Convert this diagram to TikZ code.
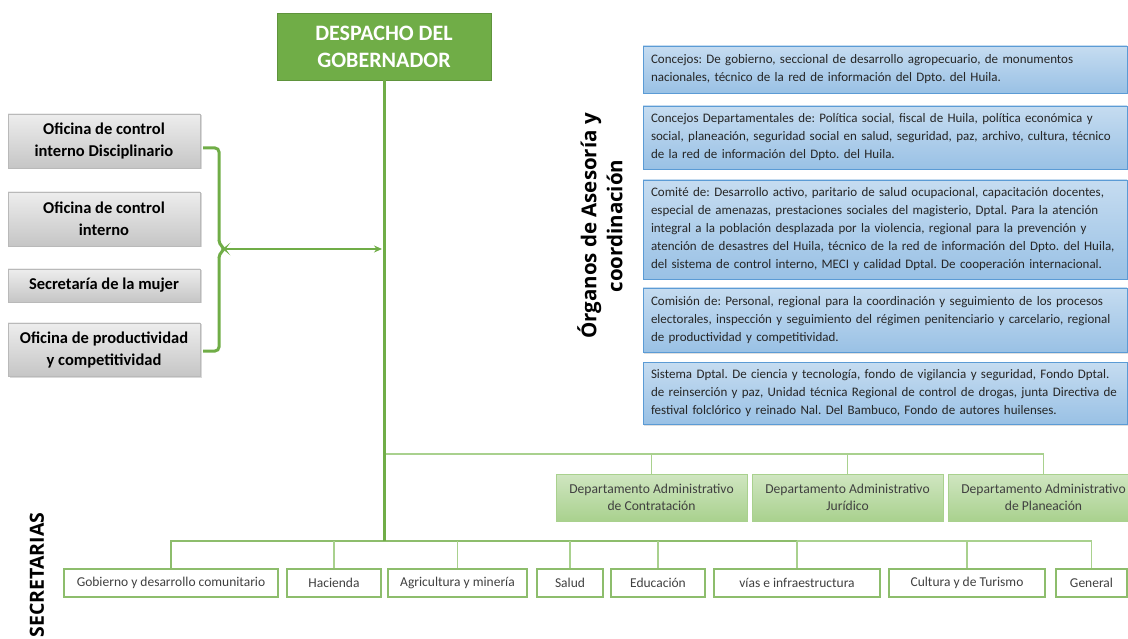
\documentclass[tikz,border=0pt]{standalone}
\usepackage{fontspec}
\setmainfont{Carlito}
\newfontfamily\titfont{Open Sans}
\usepackage{tikz}
\usetikzlibrary{arrows.meta}
\usetikzlibrary{shadows}
\frenchspacing
\definecolor{verde}{HTML}{70AD47}
\definecolor{verdec}{HTML}{A9D18E}
\definecolor{azul}{HTML}{5B9BD5}
\tikzset{jefe/.style={draw=verde!85!black, fill=verde, text=white, font=\fontsize{22}{27}\selectfont\bfseries, align=center, minimum width=214pt, minimum height=67pt, inner sep=0pt}}
\tikzset{ofi/.style={draw=gray!55, top color=gray!14, bottom color=gray!45, font=\fontsize{16.5}{22}\selectfont\bfseries, align=center, minimum width=192pt, inner sep=0pt, drop shadow={shadow xshift=1.5pt, shadow yshift=-1.5pt, opacity=0.3}}}
\tikzset{org/.style={draw=azul, top color=azul!35, bottom color=azul!62, font=\fontsize{13}{18}\selectfont, text=black!85, align=left, text width=468pt, inner xsep=8pt, inner ysep=0pt, drop shadow={shadow xshift=1pt, shadow yshift=-1.5pt, opacity=0.25}}}
\tikzset{dep/.style={draw=verdec, top color=verdec!55, bottom color=verdec, font=\fontsize{13.6}{17}\selectfont, text=black!75, align=center, minimum width=191pt, minimum height=47pt, inner sep=0pt}}
\tikzset{sec/.style={draw=verde!80, line width=1.2pt, fill=white, font=\fontsize{13.5}{15}\selectfont, text=black!75, minimum height=28pt, inner sep=0pt}}
\tikzset{conn/.style={draw=verdec, line width=1.3pt}}
\tikzset{tronco/.style={draw=verde, line width=3pt}}
\tikzset{flecha/.style={draw=verde, line width=1.5pt, -{Stealth[length=8pt, width=7pt]}}}
\tikzset{rot/.style={font=\titfont\fontsize{20.5}{26}\selectfont\bfseries, rotate=90, align=center}}

\begin{document}
\begin{tikzpicture}[x=1pt, y=-1pt]
  \useasboundingbox (0,0) rectangle (1128,639);

  % despacho y tronco
  \node[jefe] (D) at (384,46.5) {DESPACHO DEL\\GOBERNADOR};
  \coordinate (DB) at (384,454);
  \coordinate (SB) at (384,541);

  % oficinas
  \node[ofi, minimum height=54pt] (O1) at (104,141) {Oficina de control\\interno Disciplinario};
  \node[ofi, minimum height=54pt] (O2) at (104,219) {Oficina de control\\interno};
  \node[ofi, minimum height=33pt] (O3) at (104,285.5) {Secretaría de la mujer};
  \node[ofi, minimum height=53pt] (O4) at (104,349.5) {Oficina de productividad\\y competitividad};
  \coordinate (P) at (225,249);
  \draw[tronco, rounded corners=4pt] ([shift={(3,7)}]O1.east) -- (219,148) -- (219,244) -- (P) -- (219,254) -- (219,351) -- ([shift={(3,1.5)}]O4.east);
  \draw[flecha, shorten >=2pt] (P) -- (P -| D.south);

  % asesoria
  \node[rot] (T1) at (600,226) {Órganos de Asesoría y\\coordinación};
  \node[org, minimum height=47pt] (C1) at (885,69.5) {Concejos: De gobierno, seccional de desarrollo agropecuario, de monumentos\\nacionales, técnico de la red de información del Dpto. del Huila.};
  \node[org, minimum height=63pt] (C2) at (885,137.5) {Concejos Departamentales de: Política social, fiscal de Huila, política económica y\\social, planeación, seguridad social en salud, seguridad, paz, archivo, cultura, técnico\\de la red de información del Dpto. del Huila.};
  \node[org, minimum height=99pt] (C3) at (885,229.5) {Comité de: Desarrollo activo, paritario de salud ocupacional, capacitación docentes,\\especial de amenazas, prestaciones sociales del magisterio, Dptal. Para la atención\\integral a la población desplazada por la violencia, regional para la prevención y\\atención de desastres del Huila, técnico de la red de información del Dpto. del Huila,\\del sistema de control interno, MECI y calidad Dptal. De cooperación internacional.};
  \node[org, minimum height=64pt] (C4) at (885,320) {Comisión de: Personal, regional para la coordinación y seguimiento de los procesos\\electorales, inspección y seguimiento del régimen penitenciario y carcelario, regional\\de productividad y competitividad.};
  \node[org, minimum height=62pt] (C5) at (885,393) {Sistema Dptal. De ciencia y tecnología, fondo de vigilancia y seguridad, Fondo Dptal.\\de reinserción y paz, Unidad técnica Regional de control de drogas, junta Directiva de\\festival folclórico y reinado Nal. Del Bambuco, Fondo de autores huilenses.};

  % departamentos administrativos
  \node[dep] (A1) at (651.5,497.5) {Departamento Administrativo\\de Contratación};
  \node[dep] (A2) at (847.5,497.5) {Departamento Administrativo\\Jurídico};
  \node[dep] (A3) at (1043.5,497.5) {Departamento Administrativo\\de Planeación};
  \draw[conn] (DB) -| (A3.north);
  \draw[conn] (A1.north) -- (A1.north |- DB);
  \draw[conn] (A2.north) -- (A2.north |- DB);

  % secretarias
  \node[rot, font=\titfont\fontsize{19.5}{24}\selectfont\bfseries] (T2) at (37,575) {SECRETARIAS};
  \node[sec, minimum width=214pt] (S1) at (171,583) {Gobierno y desarrollo comunitario};
  \node[sec, minimum width=94pt] (S2) at (334,583) {Hacienda};
  \node[sec, minimum width=139pt] (S3) at (457.5,583) {Agricultura y minería};
  \node[sec, minimum width=66pt] (S4) at (570,583) {Salud};
  \node[sec, minimum width=94pt] (S5) at (658,583) {Educación};
  \node[sec, minimum width=166pt] (S6) at (797,583) {vías e infraestructura};
  \node[sec, minimum width=156pt] (S7) at (967,583) {Cultura y de Turismo};
  \node[sec, minimum width=71pt] (S8) at (1091.5,583) {General};
  \draw[conn] (S6.north |- SB) -| (S8.north);
  \draw[conn, draw=verde!80] (S1.north) |- (S6.north |- SB);
  \draw[conn] (S2.north) -- (S2.north |- SB);
  \draw[conn] (S3.north) -- (S3.north |- SB);
  \draw[conn] (S4.north) -- (S4.north |- SB);
  \draw[conn] (S5.north) -- (S5.north |- SB);
  \draw[conn] (S6.north) -- (S6.north |- SB);
  \draw[conn] (S7.north) -- (S7.north |- SB);
  \draw[tronco] (D.south) -- (SB);
\end{tikzpicture}
\end{document}
